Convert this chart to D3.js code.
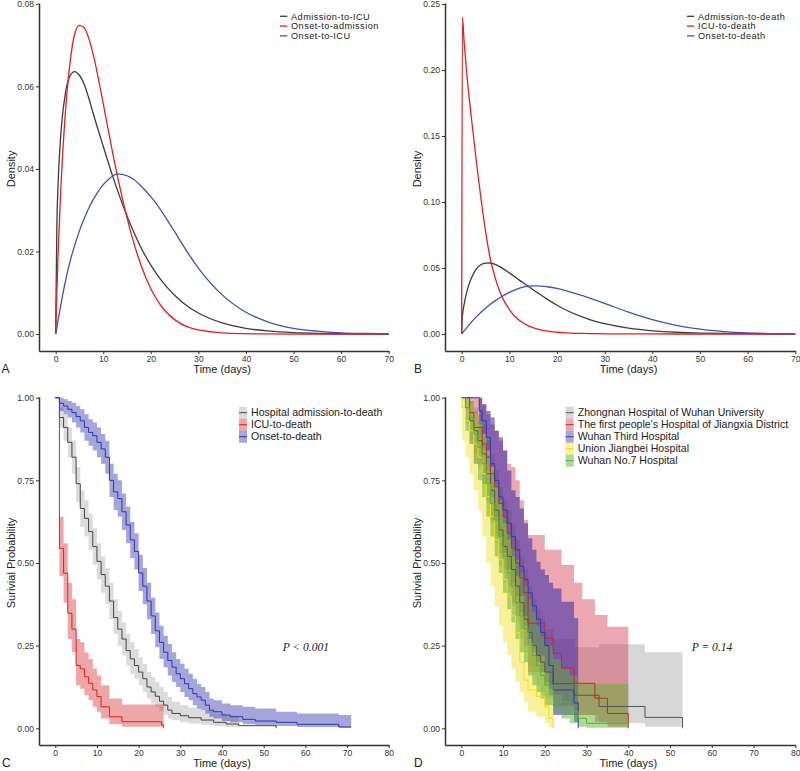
<!DOCTYPE html>
<html><head><meta charset="utf-8">
<script src="https://cdn.jsdelivr.net/npm/d3@7"></script>
<style>body{margin:0;background:#fff} svg{display:block}</style>
</head><body>
<svg id="c" width="800" height="771"></svg>
<script>
// ---------- Panel A: density curves ----------
const aTime = [0,0.25,0.5,1,2,3,4,5,6,7,8,10,12,13,14,16,18,20,22,25,28,30,35,40,45,50,55,60,65,70];
const aAdmissionToICU = [0,0.026,0.036,0.047,0.058,0.0625,0.0636,0.0627,0.0605,0.057,0.053,0.0455,0.0382,0.0348,0.0316,0.0258,0.0208,0.0167,0.0133,0.0094,0.0065,0.0051,0.0027,0.0014,0.0007,0.00035,0.00017,0.00008,0.00004,0.00002];
const aOnsetToAdmission = [0,0.010,0.019,0.033,0.053,0.0655,0.0727,0.0748,0.0742,0.0715,0.0672,0.0558,0.0438,0.0382,0.0330,0.0238,0.0165,0.0110,0.0071,0.0035,0.0016,0.0010,0.0003,0.0001,0.00003,0.00001,0,0,0,0];
const aOnsetToICU = [0,0.0016,0.0033,0.0065,0.0125,0.0175,0.0215,0.025,0.028,0.0306,0.0328,0.0362,0.0383,0.0388,0.0387,0.0378,0.0358,0.0333,0.0302,0.0248,0.0193,0.0160,0.0095,0.0053,0.0028,0.0014,0.0007,0.0003,0.00015,0.00007];
const aLegend = ["Admission-to-ICU","Onset-to-admission","Onset-to-ICU"];
const aYTicks = [0,0.02,0.04,0.06,0.08];

// ---------- Panel B: density curves ----------
const bTime = [0,0.15,0.5,1,2,3,4,5,6,7,8,10,12,14,15,16,18,20,22,25,28,30,35,40,45,50,55,60,65,70];
const bAdmissionToDeath = [0,0.013,0.022,0.031,0.042,0.049,0.0525,0.0537,0.0538,0.0528,0.0510,0.0463,0.0410,0.0360,0.0335,0.0310,0.0262,0.0218,0.0180,0.0133,0.0096,0.0078,0.0044,0.0024,0.0013,0.0007,0.0004,0.0002,0.0001,0.00005];
const bICUToDeath = [0,0.240,0.222,0.200,0.165,0.133,0.104,0.078,0.057,0.043,0.032,0.0185,0.0105,0.0062,0.0048,0.0036,0.0021,0.0013,0.0008,0.0004,0.0002,0.0001,0.00003,0.00001,0,0,0,0,0,0];
const bOnsetToDeath = [0,0.0007,0.0023,0.0045,0.0088,0.0128,0.0163,0.0195,0.0225,0.0251,0.0275,0.0315,0.0345,0.0362,0.0365,0.0365,0.0358,0.0345,0.0327,0.0295,0.0258,0.0232,0.0165,0.0108,0.0065,0.0036,0.0018,0.0008,0.0003,0.0001];
const bLegend = ["Admission-to-death","ICU-to-death","Onset-to-death"];
const bYTicks = [0,0.05,0.10,0.15,0.20,0.25];

const densXTicks = [0,10,20,30,40,50,60,70];
const kmXTicks = [0,10,20,30,40,50,60,70,80];
const kmYTicks = [0,0.25,0.5,0.75,1];

// ---------- Panel C: Kaplan-Meier ----------
const cLegend = ["Hospital admission-to-death","ICU-to-death","Onset-to-death"];
const cHospTime = [0,1,2,3,4,5,6,7,8,9,10,11,12,13,14,15,16,17,18,19,20,21,22,23,24,25,26,27,28,30,32,35,38,41,44,53];
const cHospSurv = [1,0.94,0.91,0.865,0.82,0.74,0.665,0.635,0.595,0.55,0.505,0.465,0.43,0.385,0.335,0.30,0.27,0.235,0.21,0.19,0.17,0.15,0.125,0.11,0.097,0.082,0.07,0.055,0.045,0.038,0.032,0.025,0.018,0.013,0.008,0];
const cHospLow = [1,0.91,0.87,0.82,0.77,0.685,0.61,0.58,0.54,0.495,0.45,0.41,0.375,0.33,0.285,0.25,0.22,0.19,0.165,0.15,0.13,0.11,0.09,0.075,0.065,0.052,0.042,0.03,0.024,0.018,0.014,0.01,0.006,0.004,0.008,0.008];
const cHospUp = [1,0.97,0.95,0.91,0.87,0.79,0.72,0.69,0.65,0.605,0.56,0.52,0.485,0.44,0.39,0.355,0.32,0.285,0.26,0.24,0.215,0.195,0.17,0.155,0.14,0.125,0.11,0.095,0.08,0.07,0.062,0.055,0.045,0.038,0.008,0.008];

const cIcuTime = [0,1,2,3,4,5,6,7,8,9,10,11,13,16,25.5,26];
const cIcuSurv = [1,0.544,0.469,0.348,0.30,0.19,0.18,0.156,0.136,0.116,0.096,0.065,0.035,0.02,0.01,0];
const cIcuLow = [1,0.46,0.38,0.27,0.23,0.13,0.12,0.10,0.085,0.065,0.05,0.03,0.012,0.005,0.003,0.003];
const cIcuUp = [1,0.64,0.56,0.44,0.39,0.27,0.26,0.23,0.21,0.18,0.16,0.13,0.09,0.072,0.072,0.072];

const cOnsTime = [0,1,2,3,4,5,6,7,8,9,10,11,12,13,14,15,16,17,18,19,20,21,22,23,24,25,26,27,28,29,30,31,32,33,34,35,36,37,38,40,42,45,48,53,58,68,71];
const cOnsSurv = [1,0.983,0.975,0.965,0.955,0.943,0.93,0.91,0.895,0.885,0.865,0.845,0.82,0.75,0.715,0.695,0.655,0.615,0.57,0.535,0.47,0.43,0.385,0.34,0.295,0.26,0.23,0.205,0.185,0.165,0.15,0.135,0.12,0.105,0.095,0.085,0.07,0.055,0.05,0.04,0.035,0.027,0.022,0.018,0.012,0.004,0.004];
const cOnsLow = [1,0.96,0.95,0.94,0.925,0.91,0.895,0.87,0.855,0.84,0.82,0.80,0.77,0.70,0.66,0.64,0.60,0.56,0.515,0.48,0.415,0.375,0.33,0.285,0.245,0.21,0.185,0.16,0.14,0.125,0.11,0.095,0.085,0.07,0.06,0.055,0.045,0.035,0.03,0.022,0.018,0.012,0.01,0.007,0.004,0.002,0.002];
const cOnsUp = [1,1,0.995,0.99,0.985,0.975,0.965,0.95,0.935,0.925,0.91,0.89,0.87,0.80,0.77,0.75,0.71,0.67,0.625,0.59,0.525,0.485,0.44,0.395,0.35,0.31,0.28,0.255,0.23,0.21,0.195,0.18,0.165,0.15,0.135,0.125,0.11,0.09,0.085,0.075,0.07,0.065,0.06,0.05,0.045,0.04,0.04];

// ---------- Panel D: Kaplan-Meier by hospital ----------
const dLegend = ["Zhongnan Hospital of Wuhan University","The first people's Hospital of Jiangxia District","Wuhan Third Hospital","Union Jiangbei Hospital","Wuhan No.7 Hospital"];
const dZnTime = [0,1,2,3,4,5,6,7,8,9,10,11,12,13,14,15,16,17,18,19,20,22,27,33,44,53];
const dZnSurv = [1,0.97,0.93,0.90,0.87,0.83,0.77,0.72,0.66,0.60,0.55,0.52,0.48,0.43,0.38,0.33,0.29,0.25,0.22,0.20,0.17,0.135,0.10,0.066,0.033,0];
const dZnLow = [1,0.92,0.87,0.83,0.79,0.74,0.68,0.62,0.56,0.49,0.44,0.41,0.37,0.32,0.27,0.23,0.19,0.16,0.13,0.11,0.09,0.065,0.04,0.016,0.005,0.005];
const dZnUp = [1,1,0.99,0.97,0.95,0.92,0.87,0.83,0.78,0.73,0.69,0.66,0.62,0.57,0.52,0.48,0.43,0.39,0.36,0.34,0.30,0.27,0.245,0.254,0.23,0.23];

const dJxTime = [0,2,3,5,6,7,8,9,10,11,12,13,14,15,16,20,22,24,27,29,32,35,40];
const dJxSurv = [1,0.955,0.91,0.86,0.82,0.77,0.73,0.68,0.64,0.59,0.545,0.50,0.455,0.41,0.318,0.273,0.227,0.182,0.136,0.136,0.091,0.045,0];
const dJxLow = [1,0.86,0.80,0.74,0.69,0.63,0.58,0.53,0.48,0.43,0.38,0.34,0.30,0.25,0.17,0.13,0.10,0.07,0.04,0.04,0.02,0.005,0.005];
const dJxUp = [1,1,1,0.98,0.95,0.92,0.90,0.87,0.84,0.80,0.79,0.75,0.69,0.63,0.585,0.54,0.54,0.494,0.44,0.39,0.343,0.307,0.307];

const dThTime = [0,4.3,5,6,7,8,9,10,11,12,13,14,15,16,17,18,19,20,21,22,24,27,28];
const dThSurv = [1,0.96,0.93,0.88,0.80,0.75,0.70,0.66,0.62,0.58,0.54,0.49,0.45,0.41,0.37,0.33,0.29,0.25,0.19,0.116,0.116,0.077,0];
const dThLow = [1,0.88,0.84,0.78,0.70,0.64,0.58,0.53,0.48,0.44,0.40,0.35,0.31,0.27,0.23,0.20,0.17,0.14,0.10,0.04,0.04,0.02,0.02];
const dThUp = [1,1,0.98,0.96,0.94,0.90,0.88,0.84,0.78,0.72,0.70,0.665,0.62,0.575,0.54,0.504,0.48,0.464,0.44,0.423,0.383,0.333,0.333];

const dJbTime = [0,0.2,1,2,3,4,5,6,7,8,9,10,11,12,13,14,15,16,18,20,21,22];
const dJbSurv = [1,0.97,0.93,0.90,0.86,0.82,0.77,0.70,0.64,0.57,0.51,0.45,0.40,0.34,0.29,0.20,0.146,0.116,0.096,0.065,0.03,0];
const dJbLow = [1,0.87,0.82,0.77,0.72,0.66,0.58,0.50,0.43,0.37,0.31,0.26,0.22,0.18,0.14,0.11,0.08,0.05,0.035,0.015,0.003,0.003];
const dJbUp = [1,1,0.99,0.98,0.95,0.92,0.89,0.84,0.79,0.73,0.68,0.62,0.57,0.52,0.46,0.40,0.34,0.25,0.22,0.17,0.12,0.12];

const dN7Time = [0,1,2,3,4,5,6,7,8,9,10,11,12,13,14,15,16,17,18,19,20,22,24,26,28,30,40];
const dN7Surv = [1,0.97,0.94,0.89,0.85,0.80,0.74,0.68,0.63,0.58,0.52,0.47,0.43,0.38,0.34,0.30,0.26,0.22,0.19,0.16,0.13,0.10,0.08,0.05,0.03,0.015,0];
const dN7Low = [1,0.90,0.86,0.80,0.75,0.70,0.64,0.58,0.52,0.47,0.41,0.36,0.32,0.27,0.23,0.20,0.16,0.13,0.11,0.09,0.07,0.05,0.03,0.015,0.005,0.002,0.002];
const dN7Up = [1,1,0.99,0.96,0.93,0.88,0.83,0.78,0.74,0.69,0.64,0.59,0.55,0.51,0.47,0.43,0.39,0.35,0.31,0.28,0.25,0.21,0.18,0.16,0.135,0.135,0.135];

// ---------- drawing ----------
const FONT = "'Liberation Sans', Arial, Helvetica, sans-serif";
const svg = d3.select("#c");

function axes(x, y, xTicks, yTicks, yFmt) {
  const gx = svg.append("g").attr("transform", `translate(0,${y.range()[0]})`)
    .call(d3.axisBottom(x).tickValues(xTicks).tickFormat(d3.format("d")).tickSize(3).tickSizeOuter(0).tickPadding(2));
  const gy = svg.append("g").attr("transform", `translate(${x.range()[0]},0)`)
    .call(d3.axisLeft(y).tickValues(yTicks).tickFormat(d3.format(yFmt)).tickSize(3).tickSizeOuter(0).tickPadding(2));
  [gx, gy].forEach(g => {
    g.select(".domain").attr("stroke", "#333").attr("stroke-width", 1.5);
    g.selectAll(".tick line").attr("stroke", "#333").attr("stroke-width", 1);
    g.selectAll("text").attr("font-family", FONT).attr("font-size", 8.6).attr("fill", "#333");
  });
}
function titles(xc, xBase, yc, yBaseX, yLabel, letter, letterX) {
  svg.append("text").attr("x", xc).attr("y", xBase).attr("text-anchor", "middle")
    .attr("font-family", FONT).attr("font-size", 11).attr("fill", "#222").text("Time (days)");
  svg.append("text").attr("transform", `translate(${yBaseX},${yc}) rotate(-90)`).attr("text-anchor", "middle")
    .attr("font-family", FONT).attr("font-size", 11).attr("fill", "#222").text(yLabel);
  svg.append("text").attr("x", letterX).attr("y", xBase).attr("font-family", FONT)
    .attr("font-size", 12).attr("fill", "#222").text(letter);
}
function densLegend(labels, cols, lx) {
  labels.forEach((t, i) => {
    const yy = 16.3 + i * 9.8;
    svg.append("line").attr("x1", lx).attr("x2", lx + 7.3).attr("y1", yy).attr("y2", yy).attr("stroke", cols[i]).attr("stroke-width", 1.3);
    svg.append("text").attr("x", lx + 11).attr("y", yy + 3.3).attr("font-family", FONT).attr("font-size", 9.2)
      .attr("letter-spacing", 0.45).attr("fill", "#222").text(t);
  });
}

// Panel A
{
  const x = d3.scaleLinear().domain([-3.5, 70]).range([39, 388.7]);
  const y = d3.scaleLinear().domain([-0.0041, 0.0802]).range([351, 3]);
  axes(x, y, densXTicks, aYTicks, ".2f");
  titles((x(0) + x(70)) / 2, 373, (y(0) + y(0.08)) / 2, 15, "Density", "A", 1.5);
  const series = [[aAdmissionToICU, "#3c3c3c"], [aOnsetToAdmission, "#e41f22"], [aOnsetToICU, "#4150b8"]];
  const line = d3.line().x(d => x(d[0])).y(d => y(d[1])).curve(d3.curveMonotoneX);
  series.forEach(([vals, col]) => {
    svg.append("path").datum(d3.zip(aTime, vals)).attr("d", line)
      .attr("fill", "none").attr("stroke", col).attr("stroke-width", 1.3);
  });
  densLegend(aLegend, series.map(s => s[1]), 280);
}

// Panel B
{
  const x = d3.scaleLinear().domain([-3.5, 70]).range([445, 795.3]);
  const y = d3.scaleLinear().domain([-0.0129, 0.2508]).range([351, 3]);
  axes(x, y, densXTicks, bYTicks, ".2f");
  titles((x(0) + x(70)) / 2, 373, (y(0) + y(0.25)) / 2, 420.5, "Density", "B", 414);
  const series = [[bAdmissionToDeath, "#3c3c3c"], [bICUToDeath, "#e41f22"], [bOnsetToDeath, "#4150b8"]];
  const line = d3.line().x(d => x(d[0])).y(d => y(d[1])).curve(d3.curveMonotoneX);
  series.forEach(([vals, col]) => {
    svg.append("path").datum(d3.zip(bTime, vals)).attr("d", line)
      .attr("fill", "none").attr("stroke", col).attr("stroke-width", 1.3);
  });
  densLegend(bLegend, series.map(s => s[1]), 687);
}

function kmPanel(x, y, groups, legend, lgX, pText, pX) {
  const area = d3.area().x(d => x(d[0])).y0(d => y(d[2])).y1(d => y(d[3])).curve(d3.curveStepAfter);
  const line = d3.line().x(d => x(d[0])).y(d => y(d[1])).curve(d3.curveStepAfter);
  groups.forEach(g => {
    svg.append("path").datum(d3.zip(g.t, g.s, g.lo, g.up)).attr("d", area)
      .attr("fill", g.fill).attr("fill-opacity", g.op).attr("stroke", "none");
  });
  groups.forEach(g => {
    svg.append("path").datum(d3.zip(g.t, g.s)).attr("d", line)
      .attr("fill", "none").attr("stroke", g.col).attr("stroke-width", 1);
  });
  legend.forEach((t, i) => {
    const g = groups[i];
    const yy = 412.7 + i * 12;
    svg.append("rect").attr("x", lgX).attr("y", yy - 6).attr("width", 8).attr("height", 12)
      .attr("fill", g.fill).attr("fill-opacity", g.lop || g.op);
    svg.append("line").attr("x1", lgX).attr("x2", lgX + 8).attr("y1", yy).attr("y2", yy).attr("stroke", g.col).attr("stroke-width", 1);
    svg.append("text").attr("x", lgX + 12).attr("y", yy + 3.7).attr("font-family", FONT).attr("font-size", 10.6).attr("fill", "#222").text(t);
  });
  svg.append("text").attr("x", pX).attr("y", 650.5).attr("font-family", "'Liberation Serif', 'Times New Roman', serif")
    .attr("font-style", "italic").attr("font-size", 11.5).attr("fill", "#222").text(pText);
}

// Panel C
{
  const x = d3.scaleLinear().domain([-3.9, 80]).range([39, 388.7]);
  const y = d3.scaleLinear().domain([-0.0505, 1.003]).range([745, 396.7]);
  axes(x, y, kmXTicks, kmYTicks, ".2f");
  titles((x(0) + x(80)) / 2, 767, (y(0) + y(1)) / 2, 15, "Surivial Probability", "C", 2);
  kmPanel(x, y, [
    {t: cHospTime, s: cHospSurv, lo: cHospLow, up: cHospUp, col: "#444444", fill: "#8c8c8c", op: 0.3},
    {t: cIcuTime, s: cIcuSurv, lo: cIcuLow, up: cIcuUp, col: "#e0201e", fill: "#d62020", op: 0.4},
    {t: cOnsTime, s: cOnsSurv, lo: cOnsLow, up: cOnsUp, col: "#2838a8", fill: "#3838b0", op: 0.45}
  ], cLegend, 239, "P < 0.001", 282.7);
}

// Panel D
{
  const x = d3.scaleLinear().domain([-3.9, 80]).range([445, 795.3]);
  const y = d3.scaleLinear().domain([-0.0505, 1.003]).range([745, 396.7]);
  axes(x, y, kmXTicks, kmYTicks, ".2f");
  titles((x(0) + x(80)) / 2, 767, (y(0) + y(1)) / 2, 420.5, "Surivial Probability", "D", 414);
  kmPanel(x, y, [
    {t: dZnTime, s: dZnSurv, lo: dZnLow, up: dZnUp, col: "#555555", fill: "#9a9a9a", op: 0.4},
    {t: dJxTime, s: dJxSurv, lo: dJxLow, up: dJxUp, col: "#c8262c", fill: "#d43d51", op: 0.45},
    {t: dThTime, s: dThSurv, lo: dThLow, up: dThUp, col: "#2a3cb0", fill: "#3426a8", op: 0.55, lop: 0.42},
    {t: dJbTime, s: dJbSurv, lo: dJbLow, up: dJbUp, col: "#f2e20a", fill: "#f0e020", op: 0.45},
    {t: dN7Time, s: dN7Surv, lo: dN7Low, up: dN7Up, col: "#58b040", fill: "#60b030", op: 0.5}
  ], dLegend, 565.7, "P = 0.14", 691.7);
}
</script>
</body></html>
